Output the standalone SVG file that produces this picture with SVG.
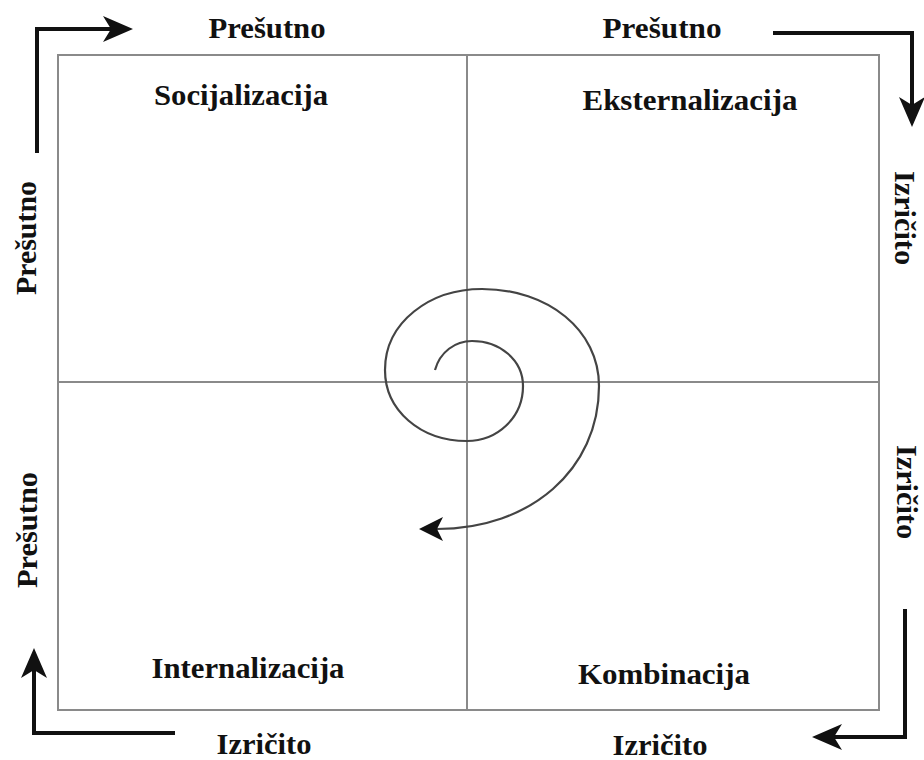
<svg xmlns="http://www.w3.org/2000/svg" width="924" height="760" viewBox="0 0 924 760">
<style>
.lbl{font-family:"Liberation Serif","Times New Roman",serif;font-weight:bold;font-size:29.5px;fill:#111;text-anchor:middle}
.grid{fill:none;stroke:#8a8a8a;stroke-width:2}
.flow{fill:none;stroke:#111;stroke-width:4;stroke-linejoin:miter}
.spiral{fill:none;stroke:#444;stroke-width:2.2}
</style>
<defs>
<marker id="bigArrow" markerUnits="userSpaceOnUse" markerWidth="32" markerHeight="28" viewBox="0 -14 32 28" refX="8" refY="0" orient="auto">
<path d="M0,-13 L30,0 L0,13 L8,0 Z" fill="#111"/>
</marker>
<marker id="spiralArrow" markerUnits="userSpaceOnUse" markerWidth="26" markerHeight="26" viewBox="0 -13 26 26" refX="6" refY="0" orient="auto">
<path d="M0,-12 L24,0 L0,12 L6,0 Z" fill="#111"/>
</marker>
</defs>
<rect width="924" height="760" fill="#fff"/>
<g id="matrix">
<rect class="grid" x="58" y="55" width="821" height="655"/>
<line class="grid" x1="467" y1="55" x2="467" y2="710"/>
<line class="grid" x1="58" y1="382" x2="879" y2="382"/>
</g>
<g id="connectors">
<path class="flow" d="M37,153 V29 H111" marker-end="url(#bigArrow)"/>
<path class="flow" d="M773,33 H912 V105" marker-end="url(#bigArrow)"/>
<path class="flow" d="M175,733 H34 V670" marker-end="url(#bigArrow)"/>
<path class="flow" d="M905,609 V737 H834" marker-end="url(#bigArrow)"/>
<path class="spiral" d="M435,370 C440,352 455,341 472,341 C500,341 523,360 523,386 C523,418 497,441 467,441 C420,441 385,410 385,370 C385,322 430,289 482,289 C548,289 599,330 599,386 C599,470 530,529 437,529" marker-end="url(#spiralArrow)"/>
</g>
<g id="socijalizacija"><text class="lbl" x="241" y="105" textLength="174" lengthAdjust="spacingAndGlyphs">Socijalizacija</text></g>
<g id="eksternalizacija"><text class="lbl" x="690" y="110" textLength="215" lengthAdjust="spacingAndGlyphs">Eksternalizacija</text></g>
<g id="internalizacija"><text class="lbl" x="248" y="678" textLength="193" lengthAdjust="spacingAndGlyphs">Internalizacija</text></g>
<g id="kombinacija"><text class="lbl" x="664" y="684" textLength="172" lengthAdjust="spacingAndGlyphs">Kombinacija</text></g>
<g id="axis-labels">
<text class="lbl" x="267" y="38" textLength="117" lengthAdjust="spacingAndGlyphs">Prešutno</text>
<text class="lbl" x="662" y="38" textLength="119" lengthAdjust="spacingAndGlyphs">Prešutno</text>
<text class="lbl" x="264" y="754" textLength="95" lengthAdjust="spacingAndGlyphs">Izričito</text>
<text class="lbl" x="660" y="755" textLength="95" lengthAdjust="spacingAndGlyphs">Izričito</text>
<text class="lbl" x="895" y="218" textLength="94" lengthAdjust="spacingAndGlyphs" transform="rotate(90 895 218)">Izričito</text>
<text class="lbl" x="897" y="492" textLength="94" lengthAdjust="spacingAndGlyphs" transform="rotate(90 897 492)">Izričito</text>
<text class="lbl" x="36" y="238" textLength="114" lengthAdjust="spacingAndGlyphs" transform="rotate(-90 36 238)">Prešutno</text>
<text class="lbl" x="37" y="530" textLength="116" lengthAdjust="spacingAndGlyphs" transform="rotate(-90 37 530)">Prešutno</text>
</g>
</svg>
